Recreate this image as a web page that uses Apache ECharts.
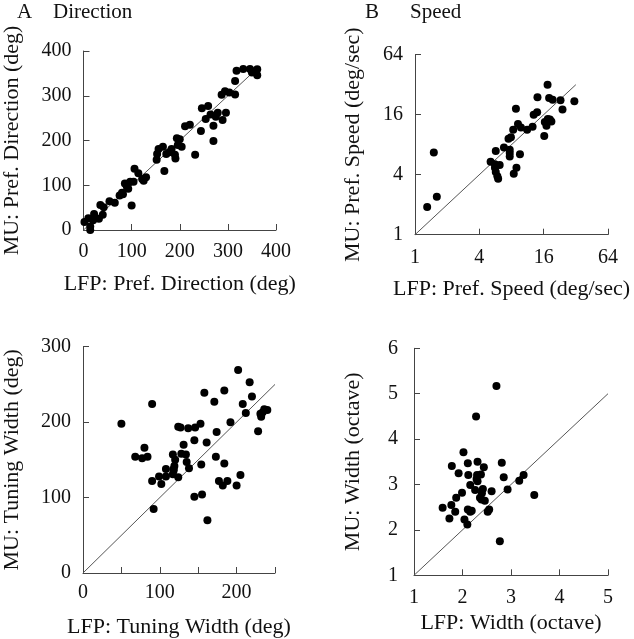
<!DOCTYPE html>
<html><head><meta charset="utf-8">
<script src="https://cdn.jsdelivr.net/npm/echarts@6/dist/echarts.min.js"></script>
<style>html,body{margin:0;padding:0;background:#fff}#c{width:634px;height:639px}</style>
</head><body><div id="c"></div>
<script>
// Panel A: preferred direction (deg)
const dirLFP = [2,10,14,14,22,20,32,35,42,40,54,65,75,82,86,90,93,97,100,104,106,114,122,130,125,152,153,156,165,168,172,178,183,190,191,196,194,200,204,211,221,232,244,246,254,259,264,270,270,275,279,289,296,287,294,303,315,315,318,332,346,353,361,361,350,80];
const dirMU  = [18,26,0,8,36,22,25,56,51,34,64,61,77,80,104,97,92,108,55,108,137,127,114,118,110,157,170,181,186,132,170,174,181,168,160,190,205,203,186,232,235,168,221,272,248,277,258,233,199,253,262,246,262,302,310,307,303,333,356,360,360,354,359,346,352,83];
// Panel B: preferred speed (deg/sec)
const spdLFP = [1.3,1.6,1.5,5.1,5.7,5.6,5.6,5.7,5.9,6.0,6.2,6.8,7.5,7.9,7.7,7.7,7.7,8.3,8.8,8.4,8.9,9.6,9.2,9.8,11.2,12.6,12.9,13.9,14.0,16.2,16.4,17.0,17.4,18.0,18.3,18.9,19.4,23.0,24.0,31.0,17.5];
const spdMU  = [1.9,2.4,6.7,5.4,6.9,5.1,4.7,4.25,3.85,3.65,5.0,7.5,9.2,9.5,7.1,6.6,6.1,11.3,18.4,4.1,4.7,6.4,12.9,11.9,11.3,12.1,16.0,16.9,23.9,9.8,13.5,12.4,32.0,23.5,14.3,13.7,22.6,22.3,18.0,21.8,14.5];
// Panel C: tuning width (deg)
const twLFP = [50,90,68,77,80,84,90,92,99,102,108,108,117,118,117,120,124,124,127,128,131,134,135,138,137,146,145,145,153,154,155,158,161,162,171,174,173,177,182,184,184,188,192,200,202,205,208,212,217,220,228,232,234,236,240,231,119,118];
const twMU  = [198,224,154,152,166,154,122,85,128,118,138,128,157,138,131,150,127,194,193,158,170,157,147,139,192,193,176,101,198,144,104,239,173,70,227,187,154,122,116,242,145,122,200,116,269,130,224,212,253,234,188,207,213,217,216,211,142,136];
// Panel D: width (octave)
const wLFP = [2.70,2.28,2.02,1.78,2.11,2.31,2.44,2.81,1.92,2.12,2.30,2.38,2.29,2.31,2.85,2.16,1.99,2.26,2.40,2.42,2.36,2.39,2.46,2.60,1.87,1.59,1.77,1.85,1.73,2.04,2.11,2.16,2.19,2.10,2.52,2.55,2.93,3.17,3.26,3.48,2.77];
const wMU  = [5.17,4.50,3.71,3.41,3.47,3.50,3.38,3.48,3.25,3.21,3.21,3.22,3.12,3.07,3.16,2.99,2.82,2.88,2.81,2.90,2.71,2.67,2.64,2.85,2.71,2.49,2.55,2.40,2.25,2.23,2.45,2.40,2.42,2.12,2.40,2.45,2.89,3.08,3.21,2.77,1.75];

const zip = (a, b) => a.map((v, i) => [v, b[i]]);
const FONT = 'Liberation Serif';
const AX = '#444';
function axis(extra) {
  return Object.assign({
    type: 'value',
    splitLine: { show: false },
    axisLine: { show: true, onZero: false, lineStyle: { color: AX, width: 1 } },
    axisTick: { show: true, inside: true, length: 6, lineStyle: { color: AX, width: 1 } },
    axisLabel: { fontFamily: FONT, fontSize: 20, color: '#111', margin: 12 },
    nameLocation: 'middle',
    nameTextStyle: { fontFamily: FONT, fontSize: 22, color: '#111' }
  }, extra);
}
function dots(xi, data) {
  return { type: 'scatter', xAxisIndex: xi, yAxisIndex: xi, data: data, symbolSize: 8,
           itemStyle: { color: '#000', opacity: 1 }, silent: true, z: 3 };
}
function diag(xi, a, b) {
  return { type: 'line', xAxisIndex: xi, yAxisIndex: xi, data: [[a, a], [b, b]], symbol: 'none',
           lineStyle: { color: '#555', width: 1 }, silent: true, z: 2 };
}
const TS = { fontFamily: FONT, fontSize: 21, fontWeight: 'normal', color: '#111' };
const chart = echarts.init(document.getElementById('c'), null, { renderer: 'canvas' });
chart.setOption({
  backgroundColor: '#fff',
  animation: false,
  title: [
    { text: 'A', left: 17, top: 2, padding: 0, textStyle: TS },
    { text: 'Direction', left: 53, top: 2, padding: 0, textStyle: TS },
    { text: 'B', left: 365, top: 2, padding: 0, textStyle: TS },
    { text: 'Speed', left: 410, top: 2, padding: 0, textStyle: TS }
  ],
  grid: [
    { left: 83.5, top: 51, width: 192.5, height: 179 },
    { left: 415, top: 54.7, width: 193, height: 180 },
    { left: 83, top: 346.7, width: 192, height: 228 },
    { left: 414, top: 348.3, width: 194, height: 227 }
  ],
  xAxis: [
    axis({ gridIndex: 0, min: 0, max: 400, interval: 100, name: 'LFP: Pref. Direction (deg)', nameGap: 43 }),
    axis({ gridIndex: 1, type: 'log', logBase: 4, min: 1, max: 64, name: 'LFP: Pref. Speed (deg/sec)', nameGap: 44,
           axisLabel: { fontFamily: FONT, fontSize: 20, color: '#111', margin: 13 } }),
    axis({ gridIndex: 2, min: 0, max: 250, interval: 50, name: 'LFP: Tuning Width (deg)', nameGap: 43,
           axisLabel: { fontFamily: FONT, fontSize: 20, color: '#111', margin: 10,
                        formatter: v => (v % 100 === 0 ? String(v) : '') } }),
    axis({ gridIndex: 3, min: 1, max: 5, interval: 1, name: 'LFP: Width (octave)', nameGap: 37 })
  ],
  yAxis: [
    axis({ gridIndex: 0, min: 0, max: 400, interval: 100, name: 'MU: Pref. Direction (deg)', nameGap: 60 }),
    axis({ gridIndex: 1, type: 'log', logBase: 4, min: 1, max: 64, name: 'MU: Pref. Speed (deg/sec)', nameGap: 51 }),
    axis({ gridIndex: 2, min: 0, max: 300, interval: 100, name: 'MU: Tuning Width (deg)', nameGap: 60 }),
    axis({ gridIndex: 3, min: 1, max: 6, interval: 1, name: 'MU: Width (octave)', nameGap: 50,
           axisLabel: { fontFamily: FONT, fontSize: 20, color: '#111', margin: 16 } })
  ],
  series: [
    diag(0, 0, 360), dots(0, zip(dirLFP, dirMU)),
    diag(1, 1, 32), dots(1, zip(spdLFP, spdMU)),
    diag(2, 0, 250), dots(2, zip(twLFP, twMU)),
    diag(3, 1, 5), dots(3, zip(wLFP, wMU))
  ]
});
</script></body></html>
